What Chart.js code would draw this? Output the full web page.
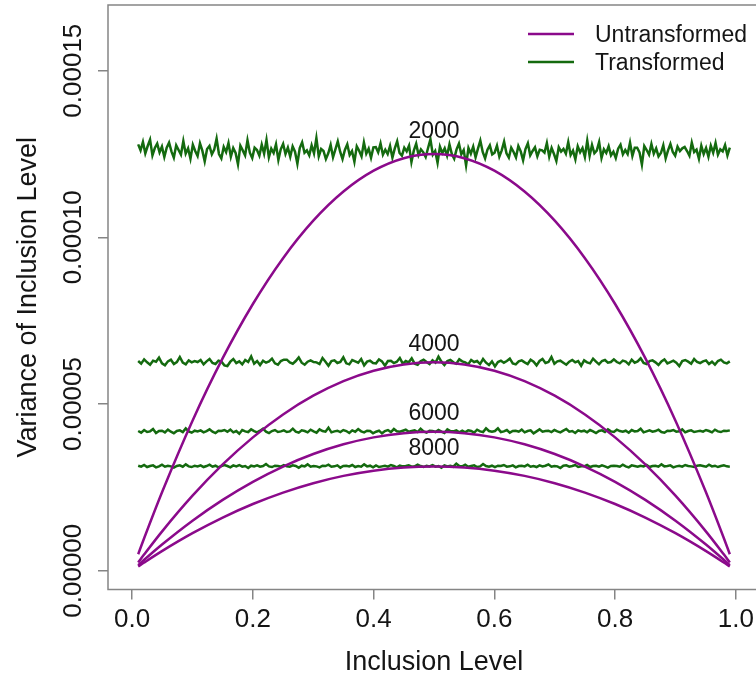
<!DOCTYPE html>
<html>
<head>
<meta charset="utf-8">
<script src="https://cdn.jsdelivr.net/npm/chart.js@4"></script>
<style>
  html, body { margin: 0; padding: 0; background: #fff; overflow: hidden; }
  #wrap { width: 756px; height: 679px; overflow: hidden; }
  canvas { display: block; }
</style>
</head>
<body>
<div id="wrap"><canvas id="c" width="770" height="679"></canvas></div>
<script>
// ---------- Data (variance values in units of 1e-6) ----------
const xTicks = [0, 0.2, 0.4, 0.6, 0.8, 1.0];
const xTickLabels = ['0.0', '0.2', '0.4', '0.6', '0.8', '1.0'];
const yTicks = [0, 50, 100, 150];
const yTickLabels = ['0.00000', '0.00005', '0.00010', '0.00015'];

// sample-size labels, anchored on the transformed level of each group
const levelLabels = ['2000', '4000', '6000', '8000'];
const levelValues = [126.5, 62.7, 41.8, 31.35];

// untransformed curves
const curveX = [0.01, 0.02, 0.05, 0.1, 0.15, 0.2, 0.25, 0.3, 0.35, 0.4, 0.45, 0.5,
  0.55, 0.6, 0.65, 0.7, 0.75, 0.8, 0.85, 0.9, 0.95, 0.98, 0.99];
const u2000 = [4.95, 9.8, 23.75, 45, 63.75, 80, 93.75, 105, 113.75, 120, 123.75, 125,
  123.75, 120, 113.75, 105, 93.75, 80, 63.75, 45, 23.75, 9.8, 4.95];
const u4000 = [2.48, 4.9, 11.88, 22.5, 31.88, 40, 46.88, 52.5, 56.88, 60, 61.88, 62.5,
  61.88, 60, 56.88, 52.5, 46.88, 40, 31.88, 22.5, 11.88, 4.9, 2.48];
const u6000 = [1.65, 3.27, 7.92, 15, 21.25, 26.67, 31.25, 35, 37.92, 40, 41.25, 41.67,
  41.25, 40, 37.92, 35, 31.25, 26.67, 21.25, 15, 7.92, 3.27, 1.65];
const u8000 = [1.24, 2.45, 5.94, 11.25, 15.94, 20, 23.44, 26.25, 28.44, 30, 30.94, 31.25,
  30.94, 30, 28.44, 26.25, 23.44, 20, 15.94, 11.25, 5.94, 2.45, 1.24];

// transformed (noisy), evenly spread from 0.01 to 0.99
const t2000 = [127.9,126.1,128.6,125.2,127.4,129.3,124.6,126.8,128.1,125.5,
  127.2,124.1,126.9,128.4,125.8,123.9,127.6,126.2,124.8,128.9,
  125.1,126.7,123.6,127.8,125.9,124.4,128.2,126.0,122.8,126.5,
  127.4,124.9,126.3,129.6,125.0,123.7,127.1,125.6,128.3,124.2,
  126.8,125.3,121.9,127.5,126.1,124.6,129.1,125.4,123.8,126.9,
  126.2,124.5,127.8,125.1,129.2,124.0,126.6,125.3,127.9,123.2,
  126.4,128.0,125.0,126.9,124.2,127.3,125.7,122.1,126.8,128.5,
  125.4,126.1,124.6,127.6,125.2,129.8,124.3,126.5,125.9,123.5,
  125.2,127.7,124.0,126.4,128.8,125.7,123.5,126.2,127.9,124.7,
  125.9,122.7,127.3,126.0,124.3,128.5,125.1,126.6,123.9,127.0,
  127.1,125.5,128.2,124.8,126.3,125.0,127.4,123.9,126.7,128.8,
  125.3,124.5,126.9,125.8,127.5,122.6,126.0,128.1,124.7,126.4,
  125.5,124.1,126.8,129.4,124.8,125.9,122.4,127.2,125.3,126.7,
  124.5,127.9,125.0,123.6,126.4,128.1,124.9,126.2,121.6,126.8,
  125.1,127.2,124.0,126.6,129.0,125.6,123.7,126.3,127.6,124.9,
  125.4,127.5,124.2,126.1,128.7,125.2,123.9,126.9,125.6,124.0,
  127.4,125.8,123.1,126.5,128.2,124.6,125.9,127.0,124.3,126.3,
  126.1,125.4,128.3,124.2,126.8,125.0,122.9,127.0,125.7,126.5,
  125.1,128.6,124.7,126.0,123.4,127.3,125.5,126.8,124.1,129.0,
  124.4,127.7,125.2,126.0,128.6,123.8,126.4,125.3,127.3,124.6,
  125.7,123.8,126.6,127.8,124.9,126.2,125.0,128.4,124.4,126.9,
  126.9,125.5,121.8,127.4,126.2,124.8,128.0,125.1,126.7,124.3,
  125.3,127.6,123.7,126.1,128.0,125.6,124.5,127.2,125.9,126.7,
  127.1,125.9,124.5,128.4,125.6,126.3,123.6,127.5,125.0,126.8,
  124.2,127.5,125.4,128.3,124.8,126.4,125.8,127.7,124.6,126.9];
const t4000 = [62.9,62.1,63.4,62.5,61.8,63.0,62.7,63.9,62.2,61.6,
  62.8,63.3,62.0,62.6,64.1,62.4,61.9,63.1,62.5,62.9,
  62.6,63.2,61.9,62.8,63.5,62.3,62.0,63.0,62.7,61.6,
  61.4,62.7,63.5,62.3,62.8,61.9,63.2,62.6,64.3,62.1,
  62.9,61.7,63.0,62.4,62.8,63.6,62.2,61.8,62.9,63.3,
  63.3,62.5,62.1,62.9,64.0,62.4,61.8,62.7,63.1,62.6,
  62.5,62.0,63.8,62.7,61.5,62.9,63.1,62.3,62.6,64.0,
  62.2,61.9,63.2,62.8,62.4,63.5,61.6,62.7,63.0,62.3,
  62.2,63.4,62.8,61.5,62.9,63.0,62.3,62.7,63.8,62.1,
  62.9,62.5,63.7,62.1,61.8,62.8,63.3,62.6,62.0,63.1,
  62.4,64.2,62.7,61.7,62.9,63.2,62.5,62.1,63.4,62.8,
  62.5,61.9,63.2,62.6,62.9,62.0,63.5,62.4,61.7,62.8,
  61.3,62.6,63.0,62.4,62.9,63.6,62.2,61.9,62.8,63.1,
  62.5,62.0,63.3,62.7,61.6,62.9,63.5,62.3,62.6,64.1,
  62.1,62.8,63.0,62.4,61.8,62.7,63.2,62.5,62.9,61.5,
  63.1,62.5,62.2,63.6,62.7,61.9,62.9,63.2,62.4,62.6,
  63.4,62.6,62.2,63.0,62.7,61.9,63.3,62.4,62.8,63.7,
  62.3,62.0,62.9,63.1,62.5,61.7,62.8,63.4,62.2,62.6,
  63.0,62.4,61.4,62.9,63.2,62.7,62.1,63.5,62.6,62.3,
  62.8,63.1,62.0,62.7,61.8,62.9,63.3,62.5,62.2,62.8];
const t6000 = [41.9,41.4,42.2,41.6,41.8,42.5,41.3,41.9,42.0,41.5,
  42.3,41.7,41.2,41.9,42.1,41.6,42.7,41.8,41.4,42.0,
  41.8,42.1,41.5,41.9,42.4,41.7,41.3,42.0,41.9,42.2,
  41.7,42.3,41.5,41.9,41.1,42.2,41.8,41.6,42.4,41.9,
  41.5,42.0,42.6,41.7,41.3,41.9,42.2,41.6,41.8,42.1,
  41.6,41.8,42.6,41.7,41.4,42.1,41.9,41.5,42.3,41.8,
  41.4,42.4,41.9,41.7,42.9,41.5,41.8,42.0,41.6,42.2,
  41.9,41.3,42.1,41.7,42.5,41.8,41.5,42.0,41.9,41.2,
  41.7,42.0,41.2,41.9,42.2,41.6,42.5,41.8,41.7,42.0,
  42.3,41.7,41.9,42.1,41.6,42.6,41.8,41.4,42.0,41.9,
  41.6,42.2,41.7,41.3,42.4,41.9,41.8,42.1,41.5,42.0,
  41.5,42.1,41.9,41.4,42.3,41.8,41.6,42.7,41.9,41.7,
  41.9,42.7,41.6,41.8,42.2,41.4,41.9,42.0,41.7,42.3,
  41.5,41.9,42.1,41.2,41.8,42.4,41.7,41.9,42.0,41.6,
  42.2,41.8,41.5,42.0,42.5,41.7,41.9,41.3,42.1,41.8,
  42.0,41.5,42.2,41.8,41.3,41.9,42.1,41.6,42.4,41.8,
  41.6,42.3,41.9,41.7,42.0,41.4,42.2,41.8,41.9,42.6,
  41.5,41.8,42.1,41.7,41.9,42.3,41.6,41.4,42.0,41.9,
  42.2,41.7,41.8,42.4,41.5,41.9,42.1,41.6,41.8,42.0,
  41.7,42.2,41.9,41.5,42.3,41.8,41.6,42.0,41.9,42.1];
const t8000 = [31.5,31.2,31.7,31.1,31.4,31.6,31.0,31.3,31.8,31.2,
  31.5,31.3,30.9,31.4,31.6,31.2,31.9,31.3,31.1,31.5,
  31.3,31.6,31.1,31.4,31.8,31.2,31.5,31.0,31.4,31.7,
  31.4,31.0,31.6,31.3,31.7,31.2,31.4,30.8,31.5,31.3,
  31.6,31.2,31.4,32.0,31.3,31.1,31.5,31.4,31.2,31.7,
  31.3,31.2,31.6,31.4,30.9,31.5,31.3,31.9,31.2,31.4,
  31.3,31.0,31.5,31.4,31.8,31.2,31.3,31.6,30.9,31.4,
  31.5,31.3,31.7,31.1,31.4,31.2,31.9,31.3,31.5,31.0,
  31.6,31.1,31.3,31.5,31.2,31.7,31.4,31.0,31.5,31.3,
  31.4,31.6,31.2,31.3,31.8,31.4,31.1,31.5,31.3,31.7,
  31.2,31.4,30.9,31.6,31.3,31.5,31.2,32.1,31.4,31.3,
  31.8,31.2,31.4,31.6,31.1,31.3,32.0,31.4,31.2,31.5,
  31.1,31.5,31.4,31.7,31.2,31.3,31.6,31.0,31.4,31.5,
  31.3,31.8,31.2,31.4,31.1,31.6,31.3,31.5,31.9,31.2,
  31.4,31.3,30.8,31.5,31.6,31.2,31.4,31.7,31.1,31.3,
  31.3,31.7,31.1,31.4,31.5,31.2,31.6,31.3,30.9,31.4,
  31.5,31.4,31.2,31.8,31.3,31.0,31.6,31.4,31.2,31.5,
  31.3,31.7,31.1,31.4,31.5,31.2,31.9,31.3,31.4,31.6,
  31.0,31.3,31.5,31.2,31.7,31.4,31.3,31.1,31.5,31.6,
  31.4,31.2,31.8,31.3,31.5,31.1,31.4,31.6,31.3,31.2];

// ---------- Style ----------
const FONT = '"Liberation Sans", Arial, sans-serif';
const TEXT = '#151515';
const GREY = '#858585';
const PURPLE = '#8b0a8b';
const GREEN = '#146a0f';

const toPts = (xs, ys) => ys.map((y, i) => ({ x: xs[i], y }));
const evenX = n => Array.from({ length: n }, (_, i) => 0.01 + i * 0.98 / (n - 1));

const curve = d => ({ data: toPts(curveX, d), borderColor: PURPLE, borderWidth: 2.5,
  pointRadius: 0, cubicInterpolationMode: 'monotone', order: 0 });
const noisy = d => ({ data: toPts(evenX(d.length), d), borderColor: GREEN, borderWidth: 2.5,
  pointRadius: 0, tension: 0, order: 1 });

// ---------- Extra drawing: box, rotated y labels, level labels, legend ----------
const overlay = {
  id: 'overlay',
  beforeDatasetsDraw(chart) {
    const { ctx, chartArea: a } = chart;
    ctx.save();
    ctx.strokeStyle = GREY;
    ctx.lineWidth = 1.5;
    ctx.strokeRect(a.left, a.top, a.right - a.left, a.bottom - a.top);
    ctx.restore();
  },
  afterDraw(chart) {
    const { ctx } = chart;
    const xs = chart.scales.x, ys = chart.scales.y;
    ctx.save();
    ctx.fillStyle = TEXT;
    ctx.textAlign = 'center';
    ctx.textBaseline = 'alphabetic';

    // y tick labels read bottom-to-top, like R
    ctx.font = `26px ${FONT}`;
    ys.ticks.forEach((t, i) => {
      ctx.save();
      ctx.translate(ys.right - 27, ys.getPixelForValue(t.value));
      ctx.rotate(-Math.PI / 2);
      ctx.fillText(yTickLabels[i], 0, 0);
      ctx.restore();
    });

    // sample-size labels above each transformed line
    ctx.font = `23px ${FONT}`;
    levelLabels.forEach((lab, i) => {
      ctx.fillText(lab, xs.getPixelForValue(0.5), ys.getPixelForValue(levelValues[i]) - 11);
    });

    // legend
    const items = [['Untransformed', PURPLE, 34], ['Transformed', GREEN, 62]];
    ctx.textAlign = 'left';
    items.forEach(([txt, col, y]) => {
      ctx.strokeStyle = col;
      ctx.lineWidth = 2.5;
      ctx.beginPath();
      ctx.moveTo(528, y);
      ctx.lineTo(574, y);
      ctx.stroke();
      ctx.fillText(txt, 595, y + 8);
    });
    ctx.restore();
  }
};

new Chart(document.getElementById('c'), {
  type: 'line',
  data: {
    datasets: [
      curve(u2000), curve(u4000), curve(u6000), curve(u8000),
      noisy(t2000), noisy(t4000), noisy(t6000), noisy(t8000),
    ],
  },
  options: {
    responsive: false,
    animation: false,
    devicePixelRatio: 1,
    layout: { padding: { top: 5, right: 10, left: 0, bottom: 0 } },
    plugins: { legend: { display: false }, tooltip: { enabled: false } },
    scales: {
      x: {
        type: 'linear', min: -0.04, max: 1.04,
        afterBuildTicks: s => { s.ticks = xTicks.map(v => ({ value: v })); },
        afterFit: s => { s.height = 89.5; },
        ticks: { callback: (v, i) => xTickLabels[i], color: TEXT, padding: 5,
          maxRotation: 0, font: { size: 26, family: FONT } },
        grid: { drawOnChartArea: false, drawTicks: true, tickLength: 10,
          color: GREY, tickColor: GREY, lineWidth: 1.5 },
        border: { display: false },
        title: { display: true, text: 'Inclusion Level', color: TEXT,
          font: { size: 27, family: FONT }, padding: { top: 0, bottom: 0 } },
      },
      y: {
        type: 'linear', min: -5.64, max: 169.7,
        afterBuildTicks: s => { s.ticks = yTicks.map(v => ({ value: v })); },
        afterFit: s => { s.width = 108; },
        ticks: { display: false },
        grid: { drawOnChartArea: false, drawTicks: true, tickLength: 10,
          color: GREY, tickColor: GREY, lineWidth: 1.5 },
        border: { display: false },
        title: { display: true, text: 'Variance of Inclusion Level', color: TEXT,
          font: { size: 27, family: FONT }, padding: { top: 12, bottom: 0 } },
      },
    },
  },
  plugins: [overlay],
});
</script>
</body>
</html>
